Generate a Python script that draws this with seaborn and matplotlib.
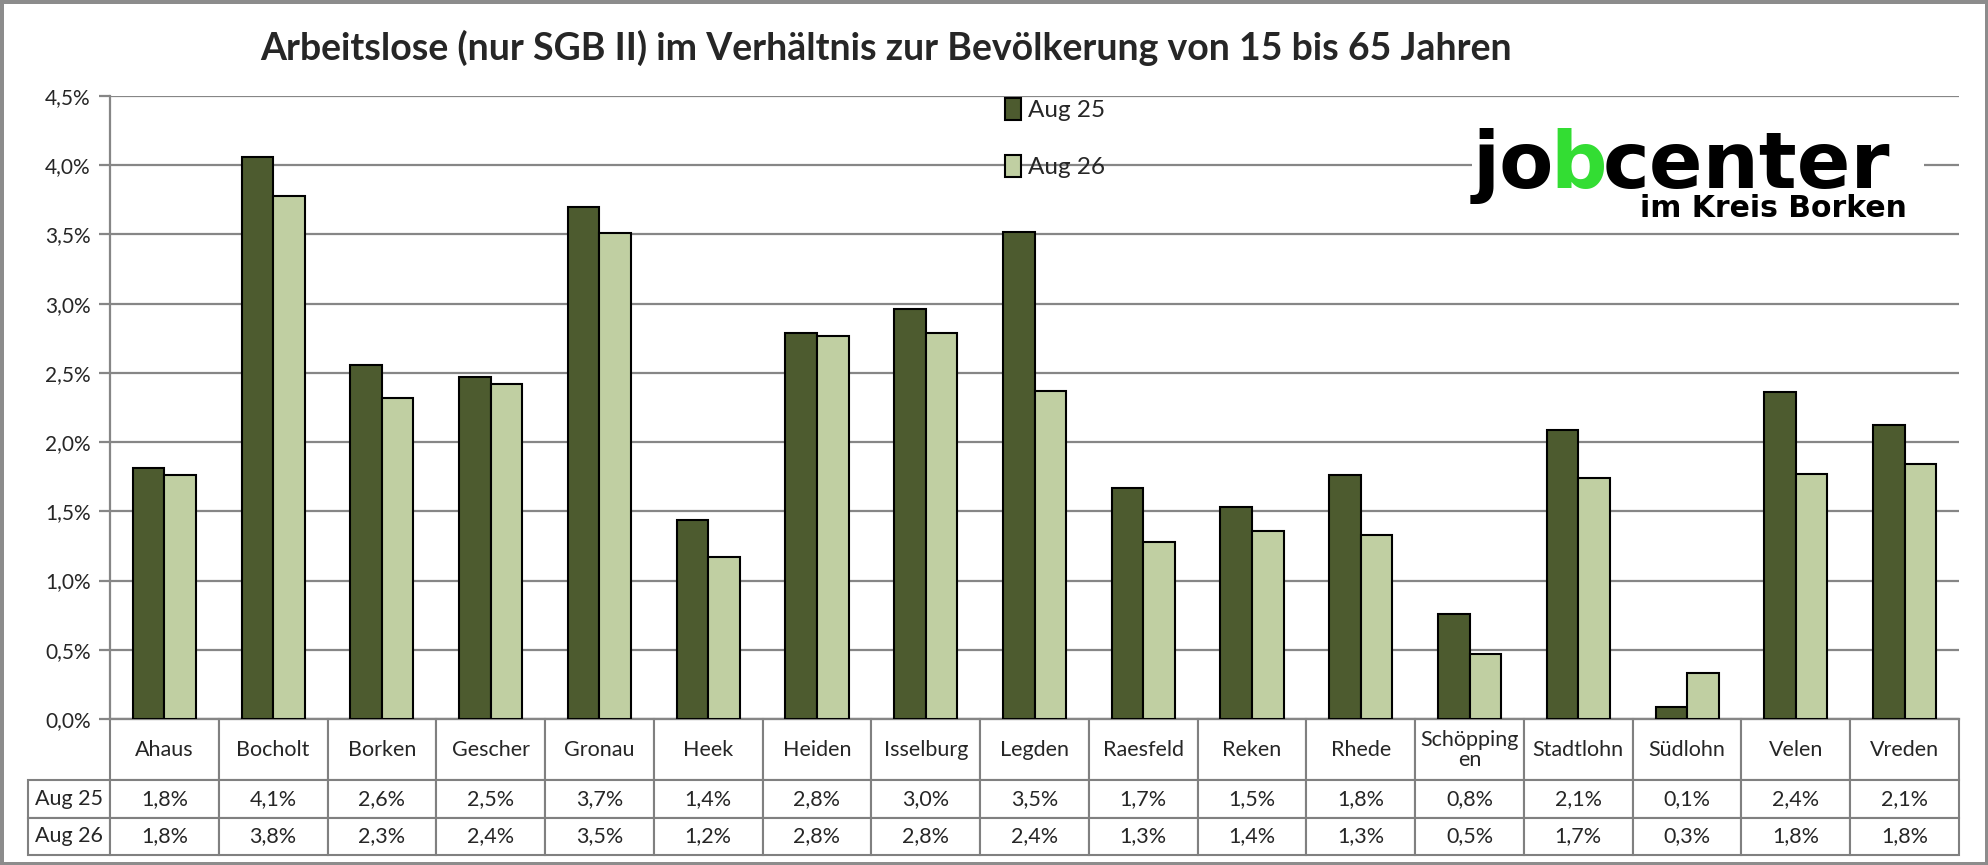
import textwrap
import pandas as pd
import numpy as np
import matplotlib
matplotlib.use("Agg")
import matplotlib.pyplot as plt
import seaborn as sns
from matplotlib.patches import Rectangle
from matplotlib.ticker import FuncFormatter, MultipleLocator

# values in percent
orte = ['Ahaus', 'Bocholt', 'Borken', 'Gescher', 'Gronau', 'Heek', 'Heiden',
        'Isselburg', 'Legden', 'Raesfeld', 'Reken', 'Rhede', 'Schöppingen',
        'Stadtlohn', 'Südlohn', 'Velen', 'Vreden']
aug25 = [1.81, 4.06, 2.56, 2.47, 3.70, 1.44, 2.79, 2.96, 3.52, 1.67, 1.53,
         1.76, 0.76, 2.09, 0.09, 2.36, 2.12]
aug26 = [1.76, 3.78, 2.32, 2.42, 3.51, 1.17, 2.77, 2.79, 2.37, 1.28, 1.36,
         1.33, 0.47, 1.74, 0.33, 1.77, 1.84]
serien = ['Aug 25', 'Aug 26']
farben = ['#4F6228', '#C3D69B']

df = pd.DataFrame({'Ort': orte * 2,
                   'Wert': aug25 + aug26,
                   'Monat': [serien[0]] * len(orte) + [serien[1]] * len(orte)})

sns.set_style('white')
plt.rcParams['font.family'] = ['Lato', 'DejaVu Sans']

W, H = 1988, 865
fig = plt.figure(figsize=(W / 100, H / 100), dpi=100)
fig.patch.set_edgecolor('#8c8c8c')
fig.patch.set_linewidth(5)

# plot area in pixels: x 110..1959, y 96..719
ax = fig.add_axes([110 / W, 1 - 719 / H, 1849 / W, 623 / H])

sns.barplot(data=df, x='Ort', y='Wert', hue='Monat', order=orte,
            hue_order=serien, palette=farben, width=0.58,
            edgecolor='black', linewidth=1.5, ax=ax, zorder=3)

ax.set_ylim(0, 4.5)
ax.yaxis.set_major_locator(MultipleLocator(0.5))
ax.yaxis.set_major_formatter(FuncFormatter(lambda v, p: f'{v:.1f}%'.replace('.', ',')))
ax.grid(axis='y', color='#868686', linewidth=1.6, zorder=0)
ax.set_axisbelow(True)
ax.set_xlabel('')
ax.set_ylabel('')
ax.set_xticks(range(len(orte)))
ax.set_xticklabels([])
ax.tick_params(axis='x', length=0)
ax.tick_params(axis='y', length=8, width=1.6, color='#868686', labelsize=15,
               pad=6, left=True)
for s in ['top', 'right']:
    ax.spines[s].set_visible(False)
for s in ['left', 'bottom']:
    ax.spines[s].set_color('#868686')
    ax.spines[s].set_linewidth(1.6)

# legend
ax.legend(loc='upper left', bbox_to_anchor=(0.479, 1.012), frameon=False,
          fontsize=17.5, handlelength=0.65, handleheight=1.0, handletextpad=0.3,
          labelspacing=1.38, borderaxespad=0)
for h in ax.get_legend().legend_handles:
    h.set_edgecolor('black')
    h.set_linewidth(1.5)

# data table below the axis
fmt = lambda v: f'{v:.1f}%'.replace('.', ',')
zellen = [[fmt(v) for v in aug25], [fmt(v) for v in aug26]]
kopf = ['\n'.join(textwrap.wrap(o, 9)) for o in orte]
lab_w = 82 / 1849
tab = ax.table(cellText=zellen, rowLabels=serien, colLabels=kopf,
               colWidths=[1 / len(orte)] * len(orte), rowLoc='center',
               cellLoc='center', colLoc='center',
               bbox=[0, -136 / 623, 1, 136 / 623])
tab.auto_set_font_size(False)
for (r, c), cell in tab.get_celld().items():
    cell.set_edgecolor('#808080')
    cell.set_linewidth(1.5)
    cell.set_height(61 if r == 0 else 37.5)
    if c == -1:
        cell.set_width(lab_w)
    cell.get_text().set_fontsize(15.5)
    if r == 0:
        cell.get_text().set_linespacing(1.0)

# title
fig.text(886 / W, 1 - 48 / H,
         'Arbeitslose (nur SGB II) im Verhältnis zur Bevölkerung von 15 bis 65 Jahren',
         ha='center', va='center', fontsize=27, fontweight='bold')

# logo with white background over the grid
fig.patches.append(Rectangle((1472 / W, 1 - 222 / H), 452 / W, 112 / H,
                             transform=fig.transFigure, facecolor='white',
                             edgecolor='none', zorder=2))
logo = dict(fontsize=57, fontweight='heavy', family='DejaVu Sans', zorder=5)
base = 1 - 188 / H
t1 = fig.text(1473 / W, base, 'jo', color='black', va='baseline', **logo)
t2 = fig.text(0, 0, 'b', color='#33DD33', va='baseline', **logo)
t3 = fig.text(0, 0, 'center', color='black', va='baseline', **logo)
fig.canvas.draw()
r = fig.canvas.get_renderer()
x = t1.get_window_extent(r).x1
t2.set_position((x / W - 0.002, base))
x = t2.get_window_extent(r).x1
t3.set_position((x / W - 0.002, base))
fig.text(1907 / W, 1 - 217 / H, 'im Kreis Borken', fontsize=21.5,
         fontweight='bold', family='DejaVu Sans', color='black', ha='right',
         va='baseline', zorder=6)

fig.savefig('out.png', dpi=100)
